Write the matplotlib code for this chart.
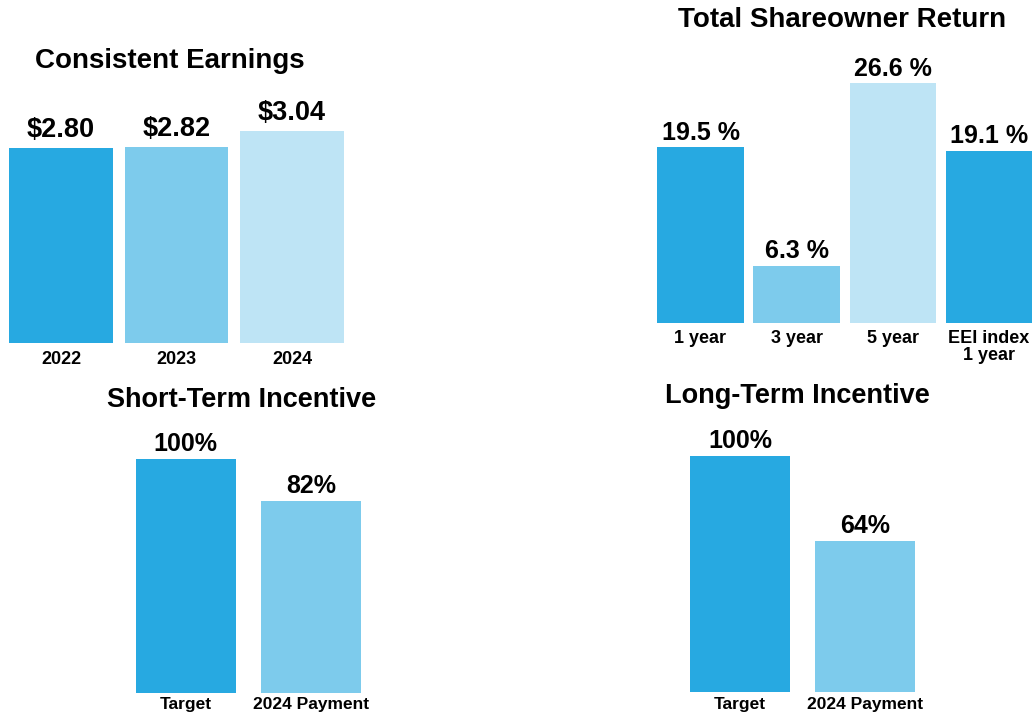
import matplotlib
matplotlib.use('agg')
import matplotlib.pyplot as plt

plt.rcParams['font.family'] = ['Liberation Sans', 'DejaVu Sans']
plt.rcParams['font.weight'] = 'bold'

W, H = 1033, 717

dark = '#27a9e1'
mid = '#7dcbec'
light = '#bee4f5'

# consistent earnings
eps_years = ['2022', '2023', '2024']
eps_values = [2.80, 2.82, 3.04]
eps_labels = ['$2.80', '$2.82', '$3.04']

# total shareowner return
tsr_periods = ['1 year', '3 year', '5 year', 'EEI index\n1 year']
tsr_values = [19.5, 6.3, 26.6, 19.1]
tsr_labels = ['19.5 %', '6.3 %', '26.6 %', '19.1 %']

# short-term incentive
sti_cats = ['Target', '2024 Payment']
sti_values = [100, 82]
sti_labels = ['100%', '82%']

# long-term incentive
lti_cats = ['Target', '2024 Payment']
lti_values = [100, 64]
lti_labels = ['100%', '64%']


def px_axes(fig, left, top, right, bottom):
    # pixel box -> figure fraction
    return fig.add_axes([left / W, 1 - bottom / H, (right - left) / W, (bottom - top) / H])


def draw_panel(ax, cats, values, labels, colors, width, ymax, label_size, label_off, tick_size, tick_pad):
    x = list(range(len(cats)))
    ax.bar(x, values, width=width, color=colors)
    ax.set_xlim(-0.5, len(cats) - 0.5)
    ax.set_ylim(0, ymax)
    for i, v in enumerate(values):
        ax.annotate(labels[i], (i, v), xytext=(0, label_off), textcoords='offset points',
                    ha='center', va='baseline', fontsize=label_size, fontweight='bold')
    ax.set_xticks(x)
    ax.set_xticklabels(cats, fontsize=tick_size, fontweight='bold', linespacing=1.0)
    ax.tick_params(axis='x', length=0, pad=tick_pad)
    ax.set_yticks([])
    for s in ax.spines.values():
        s.set_visible(False)


fig = plt.figure(figsize=(W / 100, H / 100), dpi=100)

#top left
ax1 = px_axes(fig, 3.25, 99.4, 349.75, 343)
draw_panel(ax1, eps_years, eps_values, eps_labels, [dark, mid, light], 0.9, 3.5, 19.5, 8, 13, 5.5)
fig.text(170 / W, 1 - 68.3 / H, 'Consistent Earnings', ha='center', va='baseline', fontsize=20, fontweight='bold')

#top right
ax2 = px_axes(fig, 652.4, 52.7, 1037.2, 322.7)
draw_panel(ax2, tsr_periods, tsr_values, tsr_labels, [dark, mid, light, dark], 0.9, 30, 18, 5.5, 13, 5.5)
fig.text(842 / W, 1 - 26.7 / H, 'Total Shareowner Return', ha='center', va='baseline', fontsize=20, fontweight='bold')

#bottom left
ax3 = px_axes(fig, 123.1, 412, 373.5, 693.3)
draw_panel(ax3, sti_cats, sti_values, sti_labels, [dark, mid], 0.8, 120, 18, 5.5, 12.5, 2.5)
fig.text(242 / W, 1 - 406.7 / H, 'Short-Term Incentive', ha='center', va='baseline', fontsize=19.5, fontweight='bold')

#bottom right
ax4 = px_axes(fig, 677.5, 408.9, 927.5, 691.7)
draw_panel(ax4, lti_cats, lti_values, lti_labels, [dark, mid], 0.8, 120, 18, 5.5, 12.5, 3.5)
fig.text(797 / W, 1 - 403 / H, 'Long-Term Incentive', ha='center', va='baseline', fontsize=19.5, fontweight='bold')

plt.savefig('out.png', dpi=100)
